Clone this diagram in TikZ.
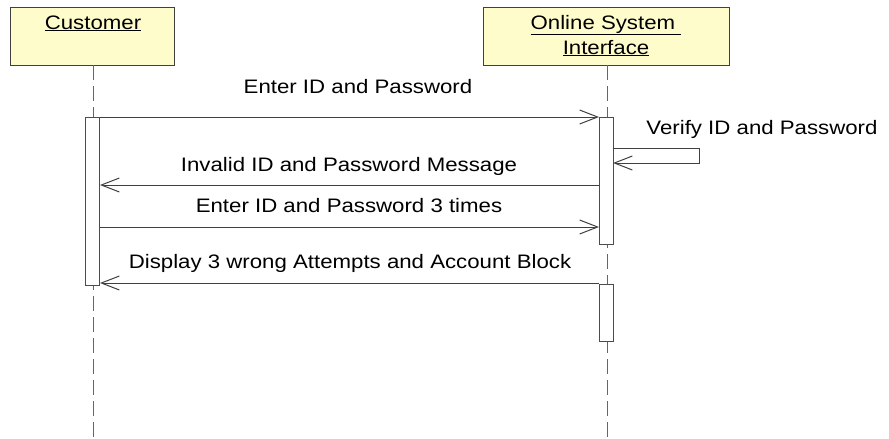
\documentclass[tikz,border=0pt]{standalone}
\usepackage{fontspec}
\setmainfont{Liberation Sans}[FakeStretch=1.14]
\usetikzlibrary{arrows.meta}
\tikzset{
  actor/.style={draw=black!75, fill=yellow!20, line width=1pt, rectangle, inner sep=0pt, align=center},
  atext/.style={font=\fontsize{19.5}{21}\selectfont, inner sep=0pt, anchor=base},
  lifeline/.style={draw=black!60, line width=1pt, dash pattern=on 15pt off 6pt},
  activation/.style={draw=black!70, fill=white, line width=1pt, rectangle, minimum width=14pt, inner sep=0pt},
  msg/.style={draw=black!75, line width=1pt, -{Straight Barb[length=18pt,width=14pt,line width=1pt]}},
  lbl/.style={font=\fontsize{19.5}{21}\selectfont, inner sep=0pt, anchor=base}
}
\begin{document}
\begin{tikzpicture}[x=1pt,y=-1pt]
\useasboundingbox (0,0) rectangle (889,439);
% actors
\node[actor, minimum width=164pt, minimum height=58pt] (cust) at (92,36) {};
\node[atext] (custt) at (93,29) {\underline{Customer}};
\node[actor, minimum width=246pt, minimum height=58pt] (sys) at (606,36) {};
\node[atext] (syst1) at (606,29) {\underline{Online System\ }};
\node[atext] (syst2) at (606,54) {\underline{Interface}};
% lifelines
\coordinate (ctop) at (93,65);
\coordinate (stop) at (607,65);
\coordinate (cbot) at (93,439);
\coordinate (sbot) at (607,439);
\draw[lifeline] (ctop) -- (cbot);
\draw[lifeline] (stop) -- (sbot);
% activations
\node[activation, minimum height=168pt] (ca) at (92.5,201) {};
\node[activation, minimum height=127pt] (sa1) at (606,180.5) {};
\node[activation, minimum height=57pt] (sa2) at (606.5,312.5) {};
% messages
\coordinate (m1s) at (100,117);
\coordinate (m1e) at (599,117);
\draw[msg] (m1s) -- (m1e);
\node[lbl] (l1) at (358,93) {Enter ID and Password};
% self message
\coordinate (s1) at (613,148);
\coordinate (s2) at (699,148);
\coordinate (s3) at (699,163);
\coordinate (s4) at (613,163);
\draw[msg] (s1) -- (s2) -- (s3) -- (s4);
\node[lbl] (ls) at (762,134) {Verify ID and Password};
% invalid
\coordinate (m2s) at (599,185);
\coordinate (m2e) at (100,185);
\draw[msg] (m2s) -- (m2e);
\node[lbl] (l2) at (349,171) {Invalid ID and Password Message};
% enter 3 times
\coordinate (m3s) at (100,227);
\coordinate (m3e) at (599,227);
\draw[msg] (m3s) -- (m3e);
\node[lbl] (l3) at (349,212) {Enter ID and Password 3 times};
% display
\coordinate (m4s) at (599,283);
\coordinate (m4e) at (100,283);
\draw[msg] (m4s) -- (m4e);
\node[lbl] (l4) at (350,268) {Display 3 wrong Attempts and Account Block};
\end{tikzpicture}
\end{document}
